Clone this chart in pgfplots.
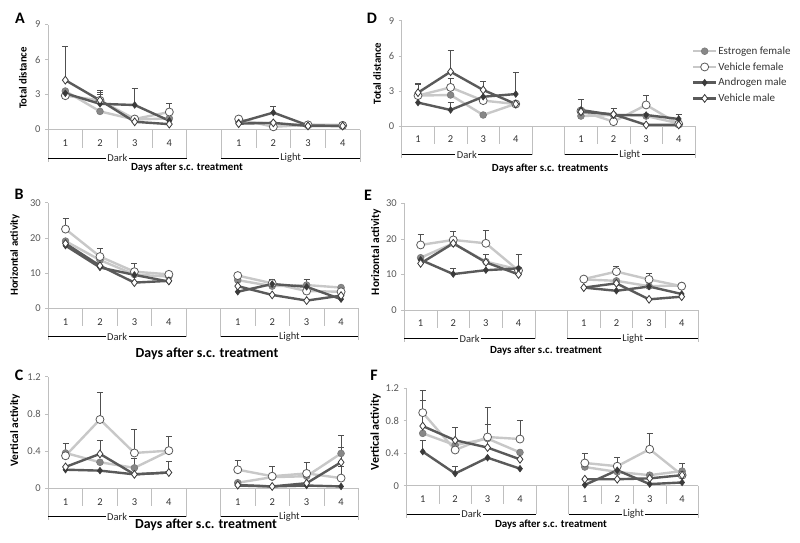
\documentclass[border=0pt]{standalone}
\usepackage{fontspec}
\setmainfont{Carlito}
\usepackage{pgfplots}
\pgfplotsset{compat=1.18}

\definecolor{axgray}{RGB}{191,191,191}
\definecolor{tickgray}{RGB}{89,89,89}
\definecolor{lline}{RGB}{200,200,200}
\definecolor{dline}{RGB}{90,90,90}
\definecolor{efmark}{RGB}{135,135,135}
\definecolor{ammark}{RGB}{58,58,58}
\definecolor{errgray}{RGB}{80,80,80}

\pgfplotsset{
  panel/.style={
    scale only axis, clip=false,
    xmin=-0.5, xmax=8.5, ymin=0,
    axis y line*=left, axis x line*=bottom,
    x axis line style={draw=axgray, line width=0.6pt},
    y axis line style={draw=axgray, line width=0.6pt},
    xtick={0,1,2,3,5,6,7,8},
    xticklabels={1,2,3,4,1,2,3,4},
    x tick style={draw=none},
    y tick style={draw=axgray, line width=0.6pt},
    tick align=outside, major tick length=3pt,
    tick label style={font=\fontsize{10.5}{12}\selectfont, text=tickgray},
    xticklabel style={anchor=center, yshift=-10.5pt, text=black!80},
    yticklabel style={xshift=-1pt},
    /pgf/number format/assume math mode=true,
    legend image code/.code={
      \draw[mark repeat=2, mark phase=2, ##1] plot coordinates {(0pt,0pt) (11.5pt,0pt) (23pt,0pt)};
    },
  },
  eb/.style={
    error bars/y dir=plus, error bars/y explicit,
    error bars/error bar style={draw=errgray, line width=0.8pt, solid},
    error bars/error mark options={rotate=90, draw=errgray, line width=0.8pt, mark size=3pt, solid},
  },
  ef/.style={eb, draw=lline, line width=2.4pt, mark=*, mark size=3.4pt,
    mark options={fill=efmark, draw=efmark!90!black, line width=0.6pt}},
  vf/.style={eb, draw=lline, line width=2.4pt, mark=*, mark size=4pt,
    mark options={fill=white, draw=tickgray, line width=0.8pt}},
  am/.style={eb, draw=dline, line width=2.4pt, mark=diamond*, mark size=3.3pt,
    mark options={fill=ammark, draw=ammark, line width=0.6pt}},
  vm/.style={eb, draw=dline, line width=2.4pt, mark=diamond*, mark size=3.9pt,
    mark options={fill=white, draw=ammark, line width=0.8pt}},
}

\newcommand{\catframe}{%
  \draw[axgray, line width=0.6pt]
    (axis cs:0.5,0) -- ++(0pt,-18pt)
    (axis cs:1.5,0) -- ++(0pt,-18pt)
    (axis cs:2.5,0) -- ++(0pt,-18pt)
    (axis cs:5.5,0) -- ++(0pt,-18pt)
    (axis cs:6.5,0) -- ++(0pt,-18pt)
    (axis cs:7.5,0) -- ++(0pt,-18pt)
    (axis cs:3.5,0) -- ++(0pt,-28.5pt)
    (axis cs:4.5,0) -- ++(0pt,-28.5pt)
    (axis cs:-0.5,0) -- ++(0pt,-32pt)
    (axis cs:8.5,0) -- ++(0pt,-32pt);
  \draw[black, line width=1pt]
    ([yshift=-28.5pt]axis cs:-0.5,0) -- ([yshift=-28.5pt]axis cs:3.5,0)
    ([yshift=-28.5pt]axis cs:4.5,0) -- ([yshift=-28.5pt]axis cs:8.5,0);
  \node[fill=white, inner sep=1.5pt, font=\fontsize{10.5}{12}\selectfont, text=black!85]
    at ([yshift=-28.5pt]axis cs:1.5,0) {Dark};
  \node[fill=white, inner sep=1.5pt, font=\fontsize{10.5}{12}\selectfont, text=black!85]
    at ([yshift=-28.5pt]axis cs:6.5,0) {Light};
}

\begin{document}
\begin{tikzpicture}[x=1pt,y=1pt]
\useasboundingbox (0,0) rectangle (800,542);

% ---------- A ----------
\begin{axis}[panel, at={(48pt,412.5pt)}, anchor=south west, width=312pt, height=105pt,
  ymax=9, ytick={0,3,6,9}]
\addplot[ef] coordinates {(0,3.3) (1,1.55) (2,0.85) (3,0.95)};
\addplot[vf] coordinates {(0,2.9) (1,2.5) +- (0,0.7) (2,0.9) (3,1.5) +- (0,0.7)};
\addplot[am] coordinates {(0,3.1) (1,2.2) +- (0,0.8) (2,2.1) +- (0,1.45) (3,0.75)};
\addplot[vm] coordinates {(0,4.23) +- (0,2.86) (1,2.5) +- (0,0.85) (2,0.66) (3,0.46)};
\addplot[ef] coordinates {(5,0.7) (6,0.5) (7,0.4) (8,0.4)};
\addplot[vf] coordinates {(5,0.9) (6,0.23) (7,0.4) (8,0.35)};
\addplot[am] coordinates {(5,0.6) (6,1.45) +- (0,0.55) (7,0.35) (8,0.3)};
\addplot[vm] coordinates {(5,0.5) (6,0.57) (7,0.3) (8,0.3)};
\catframe
\end{axis}

% ---------- D ----------
\begin{axis}[panel, at={(401.7pt,416pt)}, anchor=south west, width=293.3pt, height=105.3pt,
  ymax=9, ytick={0,3,6,9},
  legend style={draw=none, fill=none, at={(0.989,0.765)}, anchor=north west,
    inner sep=0pt, row sep=4.6pt, font=\fontsize{11}{13}\selectfont,
    nodes={text=black!80, inner sep=1pt}},
  legend cell align=left]
\addplot[ef] coordinates {(0,2.6) (1,2.65) (2,0.94) (3,1.9)};
\addlegendentry{Estrogen female}
\addplot[vf] coordinates {(0,2.6) +- (0,1.05) (1,3.3) +- (0,0.8) (2,2.17) (3,1.88)};
\addlegendentry{Vehicle female}
\addplot[am] coordinates {(0,2.0) (1,1.37) +- (0,0.63) (2,2.5) (3,2.73) +- (0,1.87)};
\addlegendentry{Androgen male}
\addplot[vm] coordinates {(0,2.85) +- (0,0.7) (1,4.64) +- (0,1.86) (2,3.08) +- (0,0.77) (3,1.88)};
\addlegendentry{Vehicle male}
\addplot[ef, forget plot] coordinates {(5,0.85) (6,0.94) (7,0.85) (8,0.23)};
\addplot[vf, forget plot] coordinates {(5,1.28) (6,0.37) (7,1.8) +- (0,0.8) (8,0.17)};
\addplot[am, forget plot] coordinates {(5,1.37) +- (0,0.9) (6,0.94) (7,0.94) (8,0.6) +- (0,0.35)};
\addplot[vm, forget plot] coordinates {(5,1.22) (6,1.0) +- (0,0.5) (7,0.09) (8,0.09)};
\catframe
\end{axis}

% ---------- B ----------
\begin{axis}[panel, at={(48.3pt,233.7pt)}, anchor=south west, width=310pt, height=105.6pt,
  ymax=30, ytick={0,10,20,30}]
\addplot[ef] coordinates {(0,19.1) (1,13.7) (2,9.6) (3,9.0)};
\addplot[vf] coordinates {(0,22.5) +- (0,2.9) (1,14.7) +- (0,2.3) (2,10.4) +- (0,2.4) (3,9.65)};
\addplot[am] coordinates {(0,17.8) (1,11.6) (2,9.5) (3,7.6)};
\addplot[vm] coordinates {(0,18.4) (1,12.1) (2,7.3) (3,7.8)};
\addplot[ef] coordinates {(5,8.0) (6,6.3) (7,6.6) (8,5.9)};
\addplot[vf] coordinates {(5,9.3) (6,7.1) (7,4.9) (8,4.7)};
\addplot[am] coordinates {(5,4.7) (6,6.9) +- (0,1.3) (7,6.1) +- (0,2.1) (8,2.6)};
\addplot[vm] coordinates {(5,6.3) (6,3.8) (7,2.2) (8,3.6)};
\catframe
\end{axis}

% ---------- E ----------
\begin{axis}[panel, at={(404.3pt,232pt)}, anchor=south west, width=293.7pt, height=106.7pt,
  ymax=30, ytick={0,10,20,30}]
\addplot[ef] coordinates {(0,14.7) (1,18.75) (2,13.6) (3,11.4)};
\addplot[vf] coordinates {(0,18.3) +- (0,3) (1,19.7) +- (0,2.3) (2,18.75) +- (0,3.75) (3,11.1) +- (0,1)};
\addplot[am] coordinates {(0,14.1) (1,10.1) +- (0,1.6) (2,11.2) (3,11.7) +- (0,3.8)};
\addplot[vm] coordinates {(0,13.1) (1,18.75) (2,13.4) +- (0,2.1) (3,10.0)};
\addplot[ef] coordinates {(5,8.6) (6,8.2) (7,6.7) (8,6.9)};
\addplot[vf] coordinates {(5,8.7) (6,10.8) +- (0,1.6) (7,8.6) +- (0,1.7) (8,6.7)};
\addplot[am] coordinates {(5,6.3) (6,5.4) (7,6.6) (8,4.5)};
\addplot[vm] coordinates {(5,6.3) (6,7.5) (7,3.0) (8,3.75)};
\catframe
\end{axis}

% ---------- C ----------
\begin{axis}[panel, at={(48.3pt,53.7pt)}, anchor=south west, width=310pt, height=111.6pt,
  ymax=1.2, ytick={0,0.4,0.8,1.2}]
\addplot[ef] coordinates {(0,0.38) (1,0.28) (2,0.22) +- (0,0.1) (3,0.40)};
\addplot[vf] coordinates {(0,0.35) +- (0,0.13) (1,0.74) +- (0,0.29) (2,0.38) +- (0,0.25) (3,0.405) +- (0,0.15)};
\addplot[am] coordinates {(0,0.20) (1,0.19) (2,0.15) (3,0.17)};
\addplot[vm] coordinates {(0,0.23) (1,0.37) +- (0,0.14) (2,0.15) (3,0.17) +- (0,0.12)};
\addplot[ef] coordinates {(5,0.06) (6,0.12) (7,0.13) (8,0.375) +- (0,0.19)};
\addplot[vf] coordinates {(5,0.2) +- (0,0.1) (6,0.13) +- (0,0.11) (7,0.16) +- (0,0.12) (8,0.11) +- (0,0.13)};
\addplot[am] coordinates {(5,0.03) (6,0.02) (7,0.03) (8,0.02)};
\addplot[vm] coordinates {(5,0.035) (6,0.02) (7,0.055) (8,0.28) +- (0,0.16)};
\catframe
\end{axis}

% ---------- F ----------
\begin{axis}[panel, at={(406.5pt,56.3pt)}, anchor=south west, width=291.8pt, height=97.4pt,
  ymax=1.2, ytick={0,0.4,0.8,1.2}]
\addplot[ef] coordinates {(0,0.645) +- (0,0.4) (1,0.50) (2,0.58) (3,0.41)};
\addplot[vf] coordinates {(0,0.90) +- (0,0.27) (1,0.44) (2,0.60) +- (0,0.37) (3,0.575) +- (0,0.225)};
\addplot[am] coordinates {(0,0.42) +- (0,0.14) (1,0.15) +- (0,0.09) (2,0.345) (3,0.21)};
\addplot[vm] coordinates {(0,0.735) (1,0.56) +- (0,0.16) (2,0.47) +- (0,0.29) (3,0.325)};
\addplot[ef] coordinates {(5,0.23) (6,0.17) (7,0.13) (8,0.18) +- (0,0.095)};
\addplot[vf] coordinates {(5,0.28) +- (0,0.12) (6,0.24) +- (0,0.11) (7,0.45) +- (0,0.2) (8,0.13)};
\addplot[am] coordinates {(5,0.01) (6,0.19) (7,0.02) (8,0.04)};
\addplot[vm] coordinates {(5,0.08) (6,0.08) (7,0.09) (8,0.13)};
\catframe
\end{axis}

% panel letters
\begin{scope}[every node/.style={font=\fontsize{16}{18}\selectfont\bfseries}]
\node at (20,524) {A};
\node at (19,348) {B};
\node at (19,167) {C};
\node at (372,524) {D};
\node at (368,347) {E};
\node at (374,167) {F};
\end{scope}

% y labels
\begin{scope}[every node/.style={rotate=90, font=\fontsize{10.8}{12}\selectfont\bfseries}]
\node at (23,464) {Total distance};
\node at (15,287) {Horizontal activity};
\node[font=\fontsize{11.3}{12}\selectfont\bfseries] at (15,112) {Vertical activity};
\node at (377,468.5) {Total distance};
\node[font=\fontsize{11.4}{12}\selectfont\bfseries] at (376,290) {Horizontal activity};
\node[font=\fontsize{12}{13}\selectfont\bfseries] at (375.7,110) {Vertical activity};
\end{scope}

% x titles
\begin{scope}[every node/.style={font=\fontsize{10.9}{12}\selectfont\bfseries}]
\node at (187,374) {Days after s.c. treatment};
\node[font=\fontsize{13.9}{15}\selectfont\bfseries] at (207,188) {Days after s.c. treatment};
\node[font=\fontsize{13.8}{15}\selectfont\bfseries] at (206,17) {Days after s.c. treatment};
\node at (550,373.7) {Days after s.c. treatments};
\node at (546,191.3) {Days after s.c. treatment};
\node at (551,17) {Days after s.c. treatment};
\end{scope}
\end{tikzpicture}
\end{document}
